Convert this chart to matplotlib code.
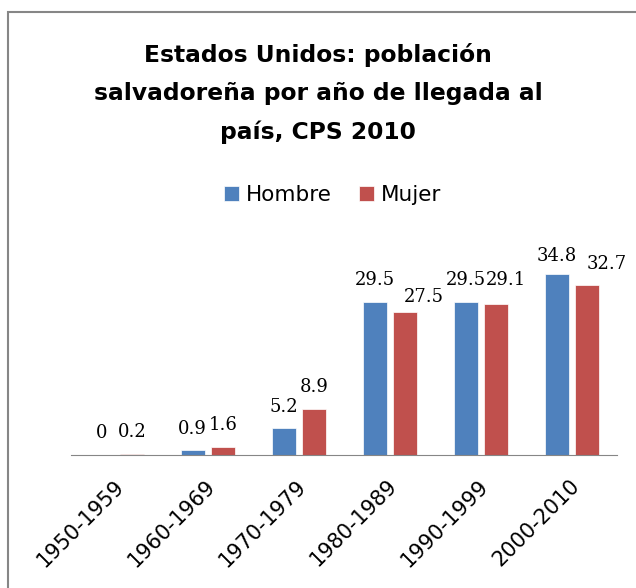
import numpy as np
import matplotlib.pyplot as plt
from matplotlib.patches import Rectangle
from matplotlib.transforms import ScaledTranslation

periodos = ["1950-1959", "1960-1969", "1970-1979", "1980-1989", "1990-1999", "2000-2010"]
hombre = [0, 0.9, 5.2, 29.5, 29.5, 34.8]
mujer = [0.2, 1.6, 8.9, 27.5, 29.1, 32.7]

azul = "#4F81BD"
rojo = "#C0504D"

# corrimientos de etiquetas (px) como en el original
nudge_h = {5: (0, -3)}
nudge_m = {3: (18, -6), 4: (9, 2), 5: (19.5, 0)}

fig = plt.figure(figsize=(6.36, 5.88), dpi=100)
ax = fig.add_axes([0.1124, 0.2262, 0.8585, 0.353])

x = np.arange(len(periodos))
w = 0.264
off = 0.17
b1 = ax.bar(x - off, hombre, w, color=azul, edgecolor="white", linewidth=0.5)
b2 = ax.bar(x + off, mujer, w, color=rojo, edgecolor="white", linewidth=0.5)

px = 72 / 100
for bars, vals, nudge in [(b1, hombre, nudge_h), (b2, mujer, nudge_m)]:
    for i, (r, v) in enumerate(zip(bars, vals)):
        dx, dy = nudge.get(i, (0, 0))
        ax.annotate("%g" % v, (r.get_x() + r.get_width() / 2, v),
                    xytext=(dx * px, (16.5 + dy) * px), textcoords="offset points",
                    ha="center", va="baseline", fontsize=13,
                    family="DejaVu Serif")

ax.set_xlim(-0.5, len(periodos) - 0.5)
ax.set_ylim(0, 40)
ax.set_yticks([])
ax.set_xticks(x)
ax.set_xticklabels(periodos, rotation=45, ha="right", va="top",
                   rotation_mode="anchor", fontsize=15, family="DejaVu Sans")
ax.tick_params(axis="x", length=0, pad=15)
for lbl in ax.get_xticklabels():
    lbl.set_transform(lbl.get_transform() + ScaledTranslation(-3 / 100, 0, fig.dpi_scale_trans))
for s in ["left", "right", "top"]:
    ax.spines[s].set_visible(False)
ax.spines["bottom"].set_color("#868686")
ax.patch.set_alpha(0)

# marco del gráfico (recortado a la derecha y abajo)
fig.patches.append(Rectangle((8 / 636, -0.1), 1.1, 1.1 - 12 / 588,
                             transform=fig.transFigure, fill=False,
                             edgecolor="#868686", linewidth=1.5))

fig.text(0.5, 0.841, "Estados Unidos: población\nsalvadoreña por año de llegada al\npaís, CPS 2010",
         ha="center", va="center", fontsize=16.8, fontweight="bold", family="DejaVu Sans",
         linespacing=1.86)

fig.legend([b1, b2], ["Hombre", "Mujer"], loc="center", bbox_to_anchor=(0.523, 0.668),
           ncol=2, frameon=False, prop={"family": "DejaVu Sans", "size": 15.5},
           handlelength=0.7, handleheight=0.7, handletextpad=0.3, columnspacing=1.3)

fig.savefig("out.png", dpi=100)
